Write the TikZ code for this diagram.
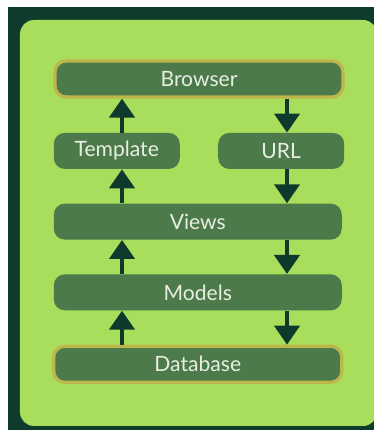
\documentclass[tikz,border=0pt]{standalone}
\usepackage{fontspec}
\setmainfont{Lato}
\usepackage{tikz}
\usetikzlibrary{positioning}
\usetikzlibrary{arrows.meta}
\definecolor{darkframe}{HTML}{0E3B2C}
\definecolor{lime}{HTML}{A8DE5C}
\definecolor{boxgreen}{HTML}{4C7A4A}
\definecolor{arrowgreen}{HTML}{0D3A2C}
\definecolor{rimyellow}{HTML}{BDB64A}
\definecolor{labelwhite}{HTML}{E8EEE2}
\tikzset {
  node distance={0.68cm},
  % rounded layer box
  layer/.style = {fill=boxgreen, rounded corners=0.22cm, minimum height=0.72cm, inner sep=0pt,
    text=labelwhite, font=\fontsize{12}{14}\selectfont},
  % layer over the whole width
  wide/.style = {layer, minimum width=5.76cm},
  % layer over half the width
  half/.style = {layer, minimum width=2.52cm},
  % first and last layer have a yellow rim
  rim/.style = {draw=rimyellow, line width=1.8pt},
  % request and response arrows
  flow/.style = {arrowgreen, line width=2.4pt, -{Triangle[width=0.5cm, length=0.38cm]}},
}

\begin{document}
\begin{tikzpicture}
        \useasboundingbox (0,0) rectangle (7.48,8.6);
        \fill[darkframe] (0.17,0) rectangle (7.48,8.46);
        \fill[lime, rounded corners=0.28cm] (0.4,0.08) rectangle (7.54,8.2);

        \node[wide, rim] (browser) at (3.98,7.02) {Browser};
        \node[half] (template) [below=of browser.south west, anchor=north west] {Template};
        \node[half] (url) [below=of browser.south east, anchor=north east] {URL};
        \node[wide] (views) [below=of template.south west, anchor=north west] {Views};
        \node[wide] (models) [below=of views] {Models};
        \node[wide, rim] (db) [below=of models] {Database};

        \coordinate (upx) at (2.44,0);
        \coordinate (downx) at (5.74,0);

        % going up on the left
        \draw[flow] (template.north -| upx) -- (browser.south -| upx);
        \draw[flow] (views.north -| upx) -- (template.south -| upx);
        \draw[flow] (models.north -| upx) -- (views.south -| upx);
        \draw[flow] (db.north -| upx) -- (models.south -| upx);

        % going down on the right
        \draw[flow] (browser.south -| downx) -- (url.north -| downx);
        \draw[flow] (url.south -| downx) -- (views.north -| downx);
        \draw[flow] (views.south -| downx) -- (models.north -| downx);
        \draw[flow] (models.south -| downx) -- (db.north -| downx);
      \end{tikzpicture}
\end{document}
